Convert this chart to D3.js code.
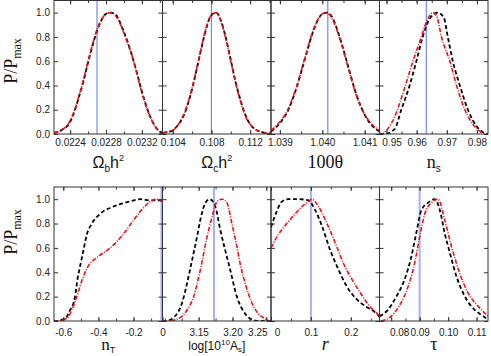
<!DOCTYPE html>
<html>
<head>
<meta charset="utf-8">
<script src="https://cdn.jsdelivr.net/npm/d3@7"></script>
<style>
body { margin: 0; background: #fff; }
</style>
</head>
<body>
<div id="charts"></div>
<script>
// P/Pmax, black = dashed run, red = dash-dot run
var yTicks = [0, 0.2, 0.4, 0.6, 0.8, 1.0];

var ombX = [0.02222, 0.0223, 0.0224, 0.02245, 0.0225, 0.02255, 0.0226, 0.02265, 0.0227, 0.02275, 0.0228, 0.02285, 0.0229, 0.02295, 0.023, 0.02305, 0.0231, 0.02315, 0.0232, 0.02325, 0.0233, 0.02335, 0.0234, 0.02343];
var ombBlack = [0.01, 0.03, 0.1, 0.19, 0.31, 0.44, 0.59, 0.73, 0.85, 0.94, 0.99, 1.0, 0.99, 0.93, 0.84, 0.74, 0.62, 0.49, 0.35, 0.23, 0.13, 0.06, 0.02, 0.01];
var ombRed = [0.01, 0.03, 0.11, 0.2, 0.32, 0.45, 0.6, 0.74, 0.86, 0.94, 0.99, 1.0, 0.98, 0.92, 0.83, 0.73, 0.62, 0.48, 0.34, 0.22, 0.13, 0.06, 0.02, 0.01];

var omcX = [0.1030, 0.1040, 0.1045, 0.1050, 0.1055, 0.1060, 0.1065, 0.1070, 0.1075, 0.1080, 0.1085, 0.1090, 0.1095, 0.1100, 0.1105, 0.1110, 0.1115, 0.1120, 0.1125, 0.1130, 0.1135, 0.1141];
var omcBlack = [0.01, 0.03, 0.07, 0.13, 0.23, 0.37, 0.54, 0.72, 0.88, 0.98, 1.0, 0.93, 0.79, 0.61, 0.43, 0.28, 0.16, 0.08, 0.04, 0.02, 0.01, 0.0];
var omcRed = [0.01, 0.03, 0.07, 0.14, 0.24, 0.38, 0.55, 0.73, 0.89, 0.98, 1.0, 0.92, 0.78, 0.6, 0.42, 0.27, 0.15, 0.08, 0.04, 0.02, 0.01, 0.0];

var thetaX = [1.03879, 1.0390, 1.0392, 1.0394, 1.0396, 1.0398, 1.0400, 1.0401, 1.0402, 1.0404, 1.0406, 1.0408, 1.0410, 1.0412, 1.04135];
var thetaBlack = [0.02, 0.09, 0.2, 0.39, 0.63, 0.86, 0.99, 1.0, 0.98, 0.81, 0.57, 0.33, 0.16, 0.06, 0.02];
var thetaRed = [0.03, 0.1, 0.21, 0.4, 0.64, 0.87, 0.99, 1.0, 0.97, 0.8, 0.56, 0.32, 0.16, 0.07, 0.03];

var nsBlackX = [0.9478, 0.94933, 0.95267, 0.9549, 0.95767, 0.9599, 0.962, 0.96433, 0.967, 0.969, 0.97033, 0.972, 0.97433, 0.977, 0.98, 0.98233, 0.98367];
var nsBlack = [0.0, 0.0, 0.04, 0.2, 0.4, 0.6, 0.8, 0.95, 1.0, 0.96, 0.8, 0.6, 0.4, 0.2, 0.06, 0.01, 0.0];
var nsRedX = [0.9477, 0.94823, 0.95033, 0.95267, 0.956, 0.95877, 0.96157, 0.96333, 0.96543, 0.96667, 0.96823, 0.971, 0.97323, 0.976, 0.97933, 0.98243];
var nsRed = [0.0, 0.0, 0.04, 0.14, 0.38, 0.6, 0.8, 0.93, 1.0, 0.97, 0.8, 0.6, 0.4, 0.2, 0.06, 0.0];

var ntBlackX = [-0.653, -0.6473, -0.5901, -0.5615, -0.5329, -0.5197, -0.5043, -0.4854, -0.4659, -0.4373, -0.3898, -0.3137, -0.2371, -0.161, -0.1038, -0.0506, -0.035];
var ntBlack = [0.0, 0.0, 0.02, 0.09, 0.2, 0.34, 0.45, 0.58, 0.71, 0.8, 0.88, 0.94, 0.975, 1.0, 0.99, 0.99, 0.98];
var ntRedX = [-0.653, -0.6473, -0.5803, -0.5517, -0.5231, -0.4946, -0.4625, -0.4087, -0.3326, -0.2657, -0.2085, -0.161, -0.1135, -0.0695, -0.0466, -0.035];
var ntRed = [0.0, 0.0, 0.02, 0.09, 0.2, 0.33, 0.44, 0.52, 0.6, 0.7, 0.81, 0.9, 0.97, 1.0, 0.99, 0.98];

var asBlackX = [3.0966, 3.1010, 3.1132, 3.1256, 3.1329, 3.1403, 3.1476, 3.1525, 3.1599, 3.1662, 3.1746, 3.1819, 3.1893, 3.1966, 3.2065, 3.2187, 3.2260, 3.2378, 3.2569];
var asBlack = [0, 0, 0.03, 0.15, 0.31, 0.5, 0.69, 0.83, 0.97, 1.0, 0.94, 0.75, 0.58, 0.42, 0.2, 0.06, 0.02, 0, 0];
var asRedX = [3.0966, 3.1059, 3.1231, 3.1329, 3.1426, 3.1525, 3.1624, 3.1697, 3.1771, 3.1844, 3.1918, 3.1991, 3.2065, 3.2113, 3.2187, 3.2285, 3.2382, 3.2481, 3.2554, 3.2569];
var asRed = [0, 0, 0.03, 0.09, 0.2, 0.42, 0.69, 0.85, 0.98, 1.0, 0.97, 0.8, 0.61, 0.47, 0.31, 0.15, 0.06, 0.02, 0, 0];

var rBlackX = [0, 0.0144, 0.027, 0.0436, 0.0688, 0.094, 0.1108, 0.1277, 0.1486, 0.1695, 0.1907, 0.2116, 0.2368, 0.2577, 0.2703, 0.272];
var rBlack = [0.77, 0.9, 0.98, 1.0, 1.0, 0.99, 0.91, 0.78, 0.58, 0.42, 0.28, 0.19, 0.12, 0.08, 0.04, 0.02];
var rRedX = [0, 0.0184, 0.0395, 0.0605, 0.0814, 0.0982, 0.1025, 0.1191, 0.1403, 0.1612, 0.1821, 0.2033, 0.2242, 0.2451, 0.2662, 0.272];
var rRed = [0.6, 0.71, 0.8, 0.88, 0.95, 0.99, 1.0, 0.94, 0.8, 0.64, 0.47, 0.34, 0.23, 0.13, 0.06, 0.04];

var tauBlackX = [0.0759, 0.0788, 0.0818, 0.0847, 0.0871, 0.0888, 0.0906, 0.0929, 0.0953, 0.0971, 0.0988, 0.1006, 0.1030, 0.1059, 0.1094, 0.1123, 0.1140];
var tauBlack = [0.04, 0.09, 0.2, 0.34, 0.53, 0.72, 0.91, 0.97, 1.0, 0.91, 0.72, 0.56, 0.36, 0.2, 0.09, 0.04, 0.01];
var tauRedX = [0.0765, 0.0800, 0.0830, 0.0859, 0.0882, 0.0900, 0.0918, 0.0941, 0.0965, 0.0988, 0.1012, 0.1041, 0.1070, 0.1106, 0.1135, 0.1140];
var tauRed = [0.0, 0.04, 0.13, 0.28, 0.47, 0.69, 0.88, 0.97, 1.0, 0.83, 0.61, 0.39, 0.23, 0.12, 0.05, 0.04];

// fiducial values (blue lines)
var fiducials = [0.0227, 0.108, 1.04013, 0.9632, -0.041, 3.1726, 0.1, 0.09];

var ombTicks = [0.0224, 0.0228, 0.0232];
var omcTicks = [0.104, 0.108, 0.112];
var thetaTicks = [1.039, 1.040, 1.041];
var nsTicks = [0.95, 0.96, 0.97, 0.98];
var ntTicks = [-0.6, -0.4, -0.2, 0];
var asTicks = [3.15, 3.20, 3.25];
var rTicks = [0, 0.1, 0.2];
var tauTicks = [0.08, 0.09, 0.10, 0.11];

var ombLabels = ["0.0224", "0.0228", "0.0232"];
var omcLabels = ["0.104", "0.108", "0.112"];
var thetaLabels = ["1.039", "1.040", "1.041"];
var nsLabels = ["0.95", "0.96", "0.97", "0.98"];
var ntLabels = ["-0.6", "-0.4", "-0.2", "0"];
var asLabels = ["3.15", "3.20", "3.25"];
var rLabels = ["0", "0.1", "0.2"];
var tauLabels = ["0.08", "0.09", "0.10", "0.11"];

var settings = {
	width: 491,
	height: 356,
	left: 54,
	panelW: 108.5,
	tickFont: "'Liberation Sans', Arial, sans-serif",
	serif: "'Liberation Serif', 'Times New Roman', serif",
	frame: "#333"
};

var rows = [
	{ top: 0.5, bottom: 134, labelPad: 5, titleY: 168, yTitleY: 61 },
	{ top: 187, bottom: 321, labelPad: 7.4, titleY: 350, yTitleY: 232 }
];

var sans = settings.tickFont, serif = settings.serif;

var panels = [
	{ row: 0, col: 0, domain: [0.02222, 0.02343], ticks: ombTicks, labels: ombLabels, minor: 0.0002,
		black: [ombX, ombBlack], red: [ombX, ombRed], blueW: 1.2, nudge: [0, 0],
		title: [{ t: "\u03a9", f: sans, s: 16 }, { t: "b", f: sans, s: 10, dy: 4 }, { t: "h", f: sans, s: 16, dy: -4 }, { t: "2", f: sans, s: 9, dy: -7 }] },
	{ row: 0, col: 1, domain: [0.10294, 0.11416], ticks: omcTicks, labels: omcLabels, minor: 0.002,
		black: [omcX, omcBlack], red: [omcX, omcRed], blueW: 1.2, nudge: [0, 0],
		title: [{ t: "\u03a9", f: sans, s: 16 }, { t: "c", f: sans, s: 10, dy: 4 }, { t: "h", f: sans, s: 16, dy: -4 }, { t: "2", f: sans, s: 9, dy: -7 }] },
	{ row: 0, col: 2, domain: [1.03879, 1.04135], ticks: thetaTicks, labels: thetaLabels, minor: 0.0005,
		black: [thetaX, thetaBlack], red: [thetaX, thetaRed], blueW: 1.2, nudge: [0, 0],
		title: [{ t: "100\u03b8", f: serif, s: 18 }] },
	{ row: 0, col: 3, domain: [0.94767, 0.98367], ticks: nsTicks, labels: nsLabels, minor: 0.005,
		black: [nsBlackX, nsBlack], red: [nsRedX, nsRed], blueW: 1.2, nudge: [5, 0],
		title: [{ t: "n", f: serif, s: 18 }, { t: "s", f: sans, s: 10, dy: 4 }] },
	{ row: 1, col: 0, domain: [-0.653, -0.035], ticks: ntTicks, labels: ntLabels, minor: 0.1,
		black: [ntBlackX, ntBlack], red: [ntRedX, ntRed], blueW: 2, nudge: [0, 0],
		title: [{ t: "n", f: serif, s: 17 }, { t: "T", f: sans, s: 9, dy: 2.5 }] },
	{ row: 1, col: 1, domain: [3.0966, 3.2569], ticks: asTicks, labels: asLabels, minor: 0.025,
		black: [asBlackX, asBlack], red: [asRedX, asRed], blueW: 2, nudge: [0, -9],
		title: [{ t: "log[10", f: sans, s: 12 }, { t: "10", f: sans, s: 8, dy: -5 }, { t: "A", f: sans, s: 12, dy: 5 }, { t: "s", f: sans, s: 8, dy: 2 }, { t: "]", f: sans, s: 12, dy: -2 }] },
	{ row: 1, col: 2, domain: [0, 0.272], ticks: rTicks, labels: rLabels, minor: 0.05,
		black: [rBlackX, rBlack], red: [rRedX, rRed], blueW: 2, nudge: [6, 0],
		title: [{ t: "r", f: serif, s: 18, it: true }] },
	{ row: 1, col: 3, domain: [0.0759, 0.1140], ticks: tauTicks, labels: tauLabels, minor: 0.005,
		black: [tauBlackX, tauBlack], red: [tauRedX, tauRed], blueW: 2, nudge: [8, 0],
		title: [{ t: "\u03c4", f: serif, s: 18 }] }
];

var svg = d3.select("#charts")
	.append("svg")
	.attr("width", settings.width)
	.attr("height", settings.height)
	.style("font-family", sans);

var defs = svg.append("defs");

panels.forEach(function (p, i) {
	var row = rows[p.row];
	var x0 = settings.left + p.col * settings.panelW;
	var x1 = x0 + settings.panelW;
	var x = d3.scaleLinear().domain(p.domain).range([x0, x1]).clamp(true);
	var y = d3.scaleLinear().domain([0, 1.1]).range([row.bottom, row.top]);
	var g = svg.append("g");

	defs.append("clipPath").attr("id", "clip" + i)
		.append("rect")
		.attr("x", x0).attr("y", row.top)
		.attr("width", settings.panelW).attr("height", row.bottom - row.top);

	var plot = g.append("g").attr("clip-path", "url(#clip" + i + ")");

	plot.append("line")
		.attr("x1", x(fiducials[i])).attr("x2", x(fiducials[i]))
		.attr("y1", row.top).attr("y2", row.bottom)
		.attr("stroke", p.row === 0 ? "#7388ee" : "#a3b2f4")
		.attr("stroke-width", p.blueW);

	var line = d3.line()
		.x(function (d) { return x(d[0]); })
		.y(function (d) { return y(d[1]); })
		.curve(d3.curveMonotoneX);

	plot.append("path")
		.attr("d", line(d3.zip(p.black[0], p.black[1])))
		.attr("fill", "none")
		.attr("stroke", "#000")
		.attr("stroke-width", 1.8)
		.attr("stroke-dasharray", "4,2.6");

	plot.append("path")
		.attr("d", line(d3.zip(p.red[0], p.red[1])))
		.attr("fill", "none")
		.attr("stroke", "#e8141c")
		.attr("stroke-width", 1.6)
		.attr("stroke-dasharray", "4.5,1.5,1,1.5");

	// minor ticks at half steps
	var minor = d3.range(Math.ceil(p.domain[0] / p.minor) * p.minor, p.domain[1], p.minor)
		.filter(function (v) { return x(v) > x0 + 1 && x(v) < x1 - 1; });

	var bottomAxis = d3.axisBottom(x).tickValues(p.ticks).tickSize(-4)
		.tickPadding(row.labelPad)
		.tickFormat(function (d, k) { return p.labels[k]; });
	var bAx = g.append("g").attr("transform", "translate(0," + row.bottom + ")").call(bottomAxis);
	bAx.append("g").call(d3.axisBottom(x).tickValues(minor).tickSize(-2.5).tickFormat(""));
	g.append("g").attr("transform", "translate(0," + row.top + ")")
		.call(d3.axisTop(x).tickValues(p.ticks).tickSize(-4).tickFormat(""))
		.append("g").call(d3.axisTop(x).tickValues(minor).tickSize(-2.5).tickFormat(""));

	var leftAxis = d3.axisLeft(y).tickValues(yTicks).tickSize(-4).tickPadding(4)
		.tickFormat(p.col === 0 ? d3.format(".1f") : "");
	g.append("g").attr("transform", "translate(" + x0 + ",0)").call(leftAxis);
	g.append("g").attr("transform", "translate(" + x1 + ",0)")
		.call(d3.axisRight(y).tickValues(yTicks).tickSize(-4).tickFormat(""));

	g.selectAll(".domain").remove();
	g.selectAll(".tick line").attr("stroke", settings.frame);
	g.selectAll(".tick text")
		.attr("fill", "#222")
		.style("font-family", sans)
		.style("font-size", "10px");

	var n = p.ticks.length;
	bAx.selectAll(".tick text").each(function (d, k) {
		var shift = k === 0 ? p.nudge[0] : (k === n - 1 ? p.nudge[1] : 0);
		d3.select(this).attr("x", shift);
	});

	g.append("rect")
		.attr("x", x0).attr("y", row.top)
		.attr("width", settings.panelW).attr("height", row.bottom - row.top)
		.attr("fill", "none")
		.attr("stroke", settings.frame)
		.attr("stroke-width", 1);

	var title = g.append("text")
		.attr("x", (x0 + x1) / 2)
		.attr("y", row.titleY)
		.attr("text-anchor", "middle")
		.attr("fill", "#111");
	p.title.forEach(function (part) {
		title.append("tspan")
			.attr("dy", part.dy || 0)
			.style("font-family", part.f)
			.style("font-size", part.s + "px")
			.style("font-style", part.it ? "italic" : "normal")
			.text(part.t);
	});
});

// y axis titles
rows.forEach(function (row) {
	var t = svg.append("text")
		.attr("transform", "translate(17," + row.yTitleY + ") rotate(-90)")
		.attr("text-anchor", "middle")
		.attr("fill", "#111")
		.style("font-family", serif);
	t.append("tspan").style("font-size", "18px").text("P/P");
	t.append("tspan").attr("dy", 4).style("font-size", "12px").text("max");
});
</script>
</body>
</html>
